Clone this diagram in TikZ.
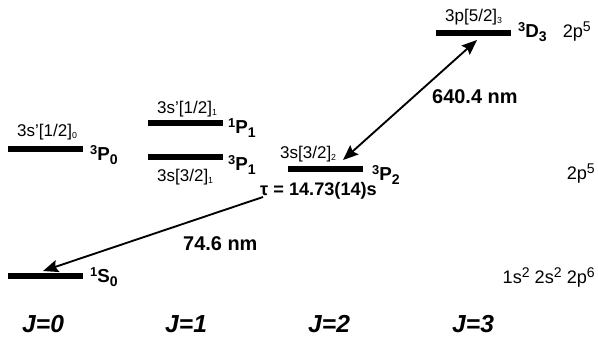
\documentclass[tikz,border=0pt]{standalone}
\usepackage{fontspec}
\setmainfont{Liberation Sans}
\usetikzlibrary{arrows.meta}
\newcommand{\cfgsub}[1]{\raisebox{-0.3ex}{\fontsize{7.5}{7.5}\selectfont #1}}
\newcommand{\termsym}[3]{\raisebox{0.6ex}{\fontsize{11}{11}\selectfont #1}#2\raisebox{-0.45ex}{\fontsize{12}{12}\selectfont #3}}
\newcommand{\cfgsup}[1]{\raisebox{0.6ex}{\fontsize{12}{12}\selectfont #1}}
\tikzset{
  levelline/.style={line width=4.3pt},
  cfglabel/.style={font=\fontsize{14.5}{14.5}\selectfont, anchor=base west, inner sep=0pt},
  shelllabel/.style={font=\fontsize{15.5}{15.5}\selectfont, anchor=base east, inner sep=0pt},
  termlabel/.style={font=\fontsize{16}{16}\selectfont\bfseries, anchor=base west, inner sep=0pt},
  translabel/.style={font=\fontsize{17}{17}\selectfont\bfseries, anchor=base west, inner sep=0pt},
  jlabel/.style={font=\fontsize{21}{21}\selectfont\bfseries\itshape, anchor=base west, inner sep=0pt},
  transarrow/.style={line width=1.6pt, >={Stealth[length=13pt,width=10.5pt,inset=2pt]}}
}
\begin{document}
\begin{tikzpicture}[x=0.03cm, y=-0.03cm]
  \useasboundingbox (0,0) rectangle (598,336);
  % levels
  \foreach \xa/\y in {8/149, 148/123, 148/157, 288/169, 436/33, 8/276} {
    \draw[levelline] (\xa,\y) -- (\xa+75,\y);
  }
  % configurations
  \node[cfglabel] (c0) at (17,136) {3s'[1/2]\cfgsub{0}};
  \node[cfglabel] (c1a) at (157,113) {3s'[1/2]\cfgsub{1}};
  \node[cfglabel] (c1b) at (157,181) {3s[3/2]\cfgsub{1}};
  \node[cfglabel] (c2) at (280,158) {3s[3/2]\cfgsub{2}};
  \node[cfglabel] (c3) at (445,21) {3p[5/2]\cfgsub{3}};
  % terms
  \node[termlabel] (t0) at (90,160) {\termsym{3}{P}{0}};
  \node[termlabel] (t1a) at (228,133) {\termsym{1}{P}{1}};
  \node[termlabel] (t1b) at (228,170) {\termsym{3}{P}{1}};
  \node[termlabel] (t2) at (372,180) {\termsym{3}{P}{2}};
  \node[termlabel] (t3) at (518,37) {\termsym{3}{D}{3}};
  \node[termlabel] (tg) at (90,282) {\termsym{1}{S}{0}};
  % electron configurations
  \node[shelllabel] (e1) at (591,37) {2p\cfgsup{5}};
  \node[shelllabel] (e2) at (595,179) {2p\cfgsup{5}};
  \node[shelllabel] (e3) at (595,283) {1s\cfgsup{2} 2s\cfgsup{2} 2p\cfgsup{6}};
  % transitions
  \coordinate (p2up) at (343,160);
  \coordinate (d3low) at (477,40);
  \coordinate (taustart) at (263,197);
  \coordinate (s0up) at (43,271);
  \draw[transarrow, <->] (p2up) -- (d3low);
  \draw[transarrow, ->] (taustart) -- (s0up);
  \node[translabel] (red) at (432,103) {640.4 nm};
  \node[translabel] (vuv) at (183,250) {74.6 nm};
  \node[translabel, font=\fontsize{15.5}{15.5}\selectfont\bfseries] (tau) at (260,195) {τ = 14.73(14)s};
  % J values
  \foreach \xj/\j in {22/0, 165/1, 308/2, 452/3} {
    \node[jlabel] (j\j) at (\xj,332) {J=\j};
  }
\end{tikzpicture}
\end{document}
